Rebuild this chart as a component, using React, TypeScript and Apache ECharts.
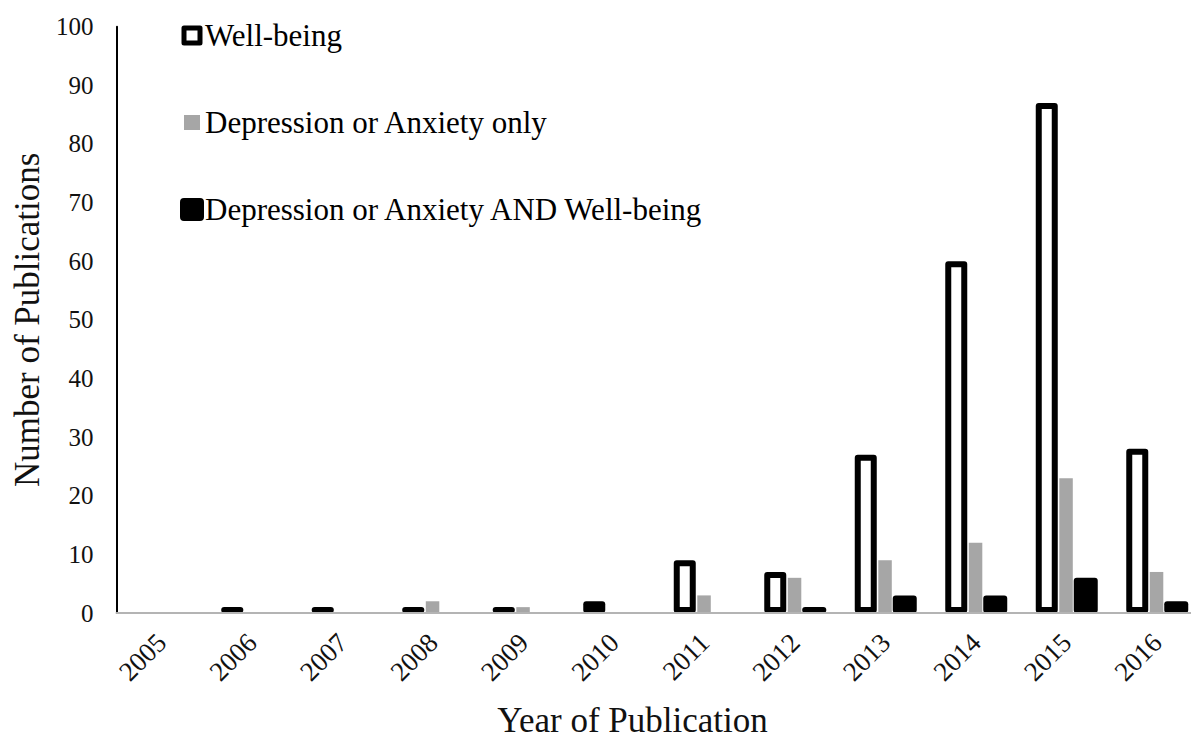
import React, { useEffect, useRef } from "react";
import * as echarts from "echarts";

const years = ["2005", "2006", "2007", "2008", "2009", "2010", "2011", "2012", "2013", "2014", "2015", "2016"];
const wellBeing = [0, 1, 1, 1, 1, 2, 9, 7, 27, 60, 87, 28];
const depAnxOnly = [0, 0, 0, 2, 1, 0, 3, 6, 9, 12, 23, 7];
const depAnxAndWell = [0, 0, 0, 0, 0, 0, 0, 1, 3, 3, 6, 2];
const seriesNames = ["Well-being", "Depression or Anxiety only", "Depression or Anxiety AND Well-being"];
const yTicks = { min: 0, max: 100, interval: 10 };

const FONT = "Liberation Serif";

export default function App() {
  const ref = useRef<HTMLDivElement>(null);
  useEffect(() => {
    if (!ref.current) return;
    const chart = echarts.init(ref.current, undefined, { renderer: "svg" });
    const toData = (arr: number[]) =>
      arr.map((v) => (v === 0 ? { value: v, itemStyle: { borderWidth: 0 } } : { value: v }));
    chart.setOption({
      animation: false,
      backgroundColor: "#ffffff",
      textStyle: { fontFamily: FONT },
      grid: { left: 116.5, top: 26.7, width: 1086, height: 586.3, containLabel: false },
      legend: {
        orient: "vertical",
        left: 180,
        top: 20,
        padding: 0,
        itemGap: 56,
        itemWidth: 16,
        itemHeight: 15,
        icon: "rect",
        selectedMode: false,
        textStyle: { fontFamily: FONT, fontSize: 31, color: "#000" },
        data: [
          { name: seriesNames[0], itemStyle: { color: "#fff", borderColor: "#000", borderWidth: 5 } },
          { name: seriesNames[1], itemStyle: { color: "#a6a6a6", borderWidth: 0 } },
          {
            name: seriesNames[2],
            itemStyle: { color: "#000", borderColor: "#000", borderWidth: 8, borderJoin: "round" },
          },
        ],
      },
      xAxis: {
        type: "category",
        data: years,
        z: 3,
        axisLine: { show: true, lineStyle: { color: "#b4b4b4", width: 2 } },
        axisTick: { show: false },
        axisLabel: {
          rotate: 45,
          margin: 25,
          interval: 0,
          fontFamily: FONT,
          fontSize: 27,
          color: "#111",
        },
        name: "Year of Publication",
        nameLocation: "middle",
        nameGap: 90,
        nameTextStyle: { fontFamily: FONT, fontSize: 35, color: "#111", padding: [0, 54, 0, 0] },
        splitLine: { show: false },
      },
      yAxis: {
        type: "value",
        min: yTicks.min,
        max: yTicks.max,
        interval: yTicks.interval,
        axisLine: { show: true, lineStyle: { color: "#000", width: 2 } },
        axisTick: { show: false },
        splitLine: { show: false },
        axisLabel: { margin: 23, fontFamily: FONT, fontSize: 25, color: "#111" },
        name: "Number of Publications",
        nameLocation: "middle",
        nameRotate: 90,
        nameGap: 71,
        nameTextStyle: { fontFamily: FONT, fontSize: 35, color: "#111" },
      },
      series: [
        {
          name: seriesNames[0],
          type: "bar",
          data: toData(wellBeing),
          barWidth: 22,
          barGap: "7%",
          itemStyle: { color: "#fff", borderColor: "#000", borderWidth: 6, borderJoin: "round" },
        },
        {
          name: seriesNames[1],
          type: "bar",
          data: toData(depAnxOnly),
          barWidth: 13.5,
          barGap: "7%",
          itemStyle: { color: "#a6a6a6" },
        },
        {
          name: seriesNames[2],
          type: "bar",
          data: toData(depAnxAndWell),
          barWidth: 24,
          barGap: "7%",
          itemStyle: { color: "#000", borderColor: "#000", borderWidth: 6, borderJoin: "round" },
        },
      ],
    });
    return () => chart.dispose();
  }, []);
  return (
    <div
      ref={ref}
      style={{ position: "fixed", left: 0, top: 0, width: 1215, height: 747, background: "#fff" }}
    />
  );
}
